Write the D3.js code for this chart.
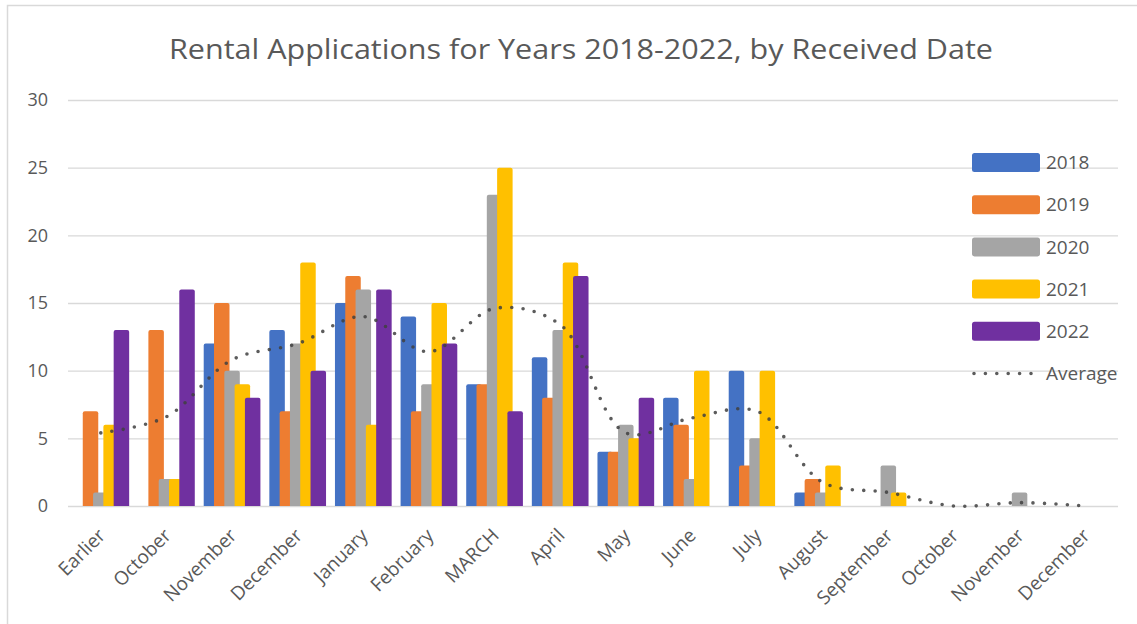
<!DOCTYPE html>
<html>
<head>
<meta charset="utf-8">
<script src="https://cdn.jsdelivr.net/npm/d3@7"></script>
<style>
  html, body { margin: 0; padding: 0; background: #fff; }
  svg { display: block; }
  text { font-family: "Open Sans", "Noto Sans", sans-serif; fill: #595959; }
</style>
</head>
<body>
<svg id="chart" width="1137" height="624"></svg>
<script>
const categories = ["Earlier", "October", "November", "December", "January", "February", "MARCH",
  "April", "May", "June", "July", "August", "September", "October", "November", "December"];
const seriesNames = ["2018", "2019", "2020", "2021", "2022"];
const s2018 = [0, 0, 12, 13, 15, 14, 9, 11, 4, 8, 10, 1, 0, 0, 0, 0];
const s2019 = [7, 13, 15, 7, 17, 7, 9, 8, 4, 6, 3, 2, 0, 0, 0, 0];
const s2020 = [1, 2, 10, 12, 16, 9, 23, 13, 6, 2, 5, 1, 3, 0, 1, 0];
const s2021 = [6, 2, 9, 18, 6, 15, 25, 18, 5, 10, 10, 3, 1, 0, 0, 0];
const s2022 = [13, 16, 8, 10, 16, 12, 7, 17, 8, null, null, null, null, null, null, null];
const average = [5.4, 6.6, 10.8, 12, 14, 11.4, 14.6, 13.4, 5.4, 6.5, 7, 1.75, 1, 0, 0.25, 0];
const yTicks = [0, 5, 10, 15, 20, 25, 30];
const colors = ["#4472C4", "#ED7D31", "#A5A5A5", "#FFC000", "#7030A0"];

const series = [s2018, s2019, s2020, s2021, s2022];
const svg = d3.select("#chart");

// frame
svg.append("path").attr("d", "M7.5,640 V5.5 H1140")
  .attr("fill", "none").attr("stroke", "#d9d9d9").attr("stroke-width", 1.5);

const plot = { left: 68, right: 1118, top: 100, bottom: 506 };
const x = d3.scaleBand().domain(d3.range(categories.length)).range([plot.left, plot.right]).padding(0);
const y = d3.scaleLinear().domain([0, 30]).range([plot.bottom, plot.top]);

// gridlines + y labels
const yAxis = d3.axisLeft(y).tickValues(yTicks).tickSize(-(plot.right - plot.left)).tickPadding(20);
const gy = svg.append("g").attr("transform", `translate(${plot.left},0)`).call(yAxis);
gy.select(".domain").remove();
gy.selectAll(".tick line").attr("stroke", "#d9d9d9").attr("stroke-width", 1.4);
gy.selectAll(".tick text").attr("font-size", 18).attr("fill", "#595959")
  .attr("font-family", "'Open Sans', sans-serif");

// bars
const groupW = x.bandwidth() * 0.864;
const overlap = 0.335;
const barW = groupW / (4 * (1 - overlap) + 1);
const step = barW * (1 - overlap);
function barPath(x0, w, yTop, yBase) {
  const r = Math.min(2, (yBase - yTop) / 2);
  return `M${x0},${yBase} V${yTop + r} Q${x0},${yTop} ${x0 + r},${yTop} H${x0 + w - r} Q${x0 + w},${yTop} ${x0 + w},${yTop + r} V${yBase} Z`;
}
series.forEach((vals, j) => {
  svg.append("g").selectAll("path")
    .data(vals.map((v, i) => ({ v, i })).filter(d => d.v !== null && d.v > 0))
    .join("path")
    .attr("d", d => {
      const cx = x(d.i) + x.bandwidth() / 2;
      const x0 = cx - groupW / 2 + j * step;
      return barPath(x0, barW, y(d.v), y(0));
    })
    .attr("fill", colors[j]);
});

// average line
const line = d3.line()
  .x((d, i) => x(i) + x.bandwidth() / 2)
  .y(d => y(d))
  .curve(d3.curveCatmullRom.alpha(0.5));
svg.append("path").datum(average)
  .attr("d", line)
  .attr("fill", "none")
  .attr("stroke", "#404040").attr("stroke-opacity", 0.85)
  .attr("stroke-width", 3.6)
  .attr("stroke-linecap", "round")
  .attr("stroke-dasharray", "0 11.4");

// x labels
svg.append("g").selectAll("text")
  .data(categories)
  .join("text")
  .attr("transform", (d, i) => `translate(${x(i) + x.bandwidth() / 2 + 1},${532}) rotate(-45)`)
  .attr("text-anchor", "end")
  .attr("dy", "0.35em")
  .attr("font-size", 19)
  .text(d => d);

// title
svg.append("text")
  .attr("x", 581).attr("y", 59)
  .attr("text-anchor", "middle")
  .attr("font-size", 28)
  .attr("textLength", 824)
  .attr("lengthAdjust", "spacingAndGlyphs")
  .text("Rental Applications for Years 2018-2022, by Received Date");

// legend
const legendItems = seriesNames.map((n, j) => ({ name: n, color: colors[j], type: "bar" }))
  .concat([{ name: "Average", type: "line" }]);
const lg = svg.append("g").selectAll("g").data(legendItems).join("g")
  .attr("transform", (d, i) => `translate(972,${162.5 + i * 42.2})`);
lg.filter(d => d.type === "bar").append("rect")
  .attr("x", 0).attr("y", -9.5).attr("width", 68).attr("height", 19).attr("rx", 2.5)
  .attr("fill", d => d.color);
lg.filter(d => d.type === "line").append("line")
  .attr("x1", 2).attr("x2", 68).attr("y1", 0).attr("y2", 0)
  .attr("stroke", "#404040").attr("stroke-opacity", 0.85)
  .attr("stroke-width", 3.6).attr("stroke-linecap", "round").attr("stroke-dasharray", "0 11.4");
lg.append("text")
  .attr("x", 74).attr("y", 0).attr("dy", "0.35em")
  .attr("font-size", 19)
  .text(d => d.name);
</script>
</body>
</html>
